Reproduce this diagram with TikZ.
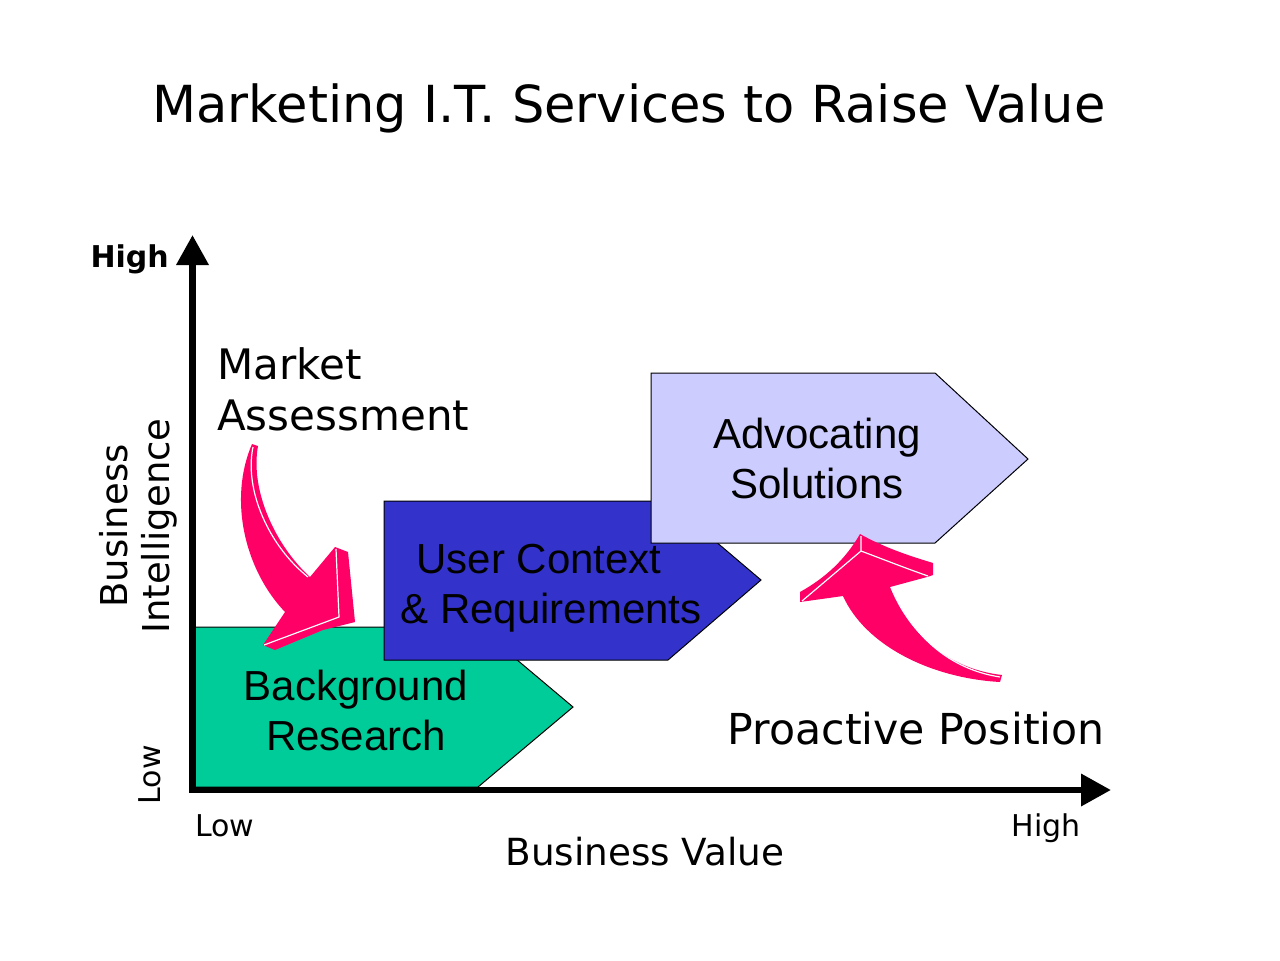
\documentclass[tikz,border=0pt]{standalone}
\usepackage{fontspec}
\usetikzlibrary{arrows.meta}
\newfontfamily\verd{DejaVu Sans}
\newfontfamily\arial{Liberation Sans}
\definecolor{brgreen}{HTML}{00CC99}
\definecolor{ucblue}{HTML}{3333CC}
\definecolor{advlav}{HTML}{CCCCFF}
\definecolor{pinkc}{HTML}{FF0066}
\begin{document}
\begin{tikzpicture}[x=0.75pt,y=-0.75pt,
  stagebox/.style={draw=black,line width=0.75pt,line join=miter},
  boxlabel/.style={font=\arial\fontsize{31.5}{37.5}\selectfont,inner sep=0pt,anchor=base},
  vlabel/.style={font=\verd\fontsize{31.5}{37.5}\selectfont,inner sep=0pt},
  ticklabel/.style={font=\verd\fontsize{22.5}{27}\selectfont,inner sep=0pt},
  hl/.style={draw=white,line width=0.9pt},
  axis/.style={line width=5pt,line join=miter,
    {Triangle[length=22.5pt,width=23.25pt]}-{Triangle[length=22.5pt,width=23.25pt]}}]
\useasboundingbox[fill=white] (0,0) rectangle (1280,960);

% title
\node[font=\verd\fontsize{38.3}{46}\selectfont,inner sep=0pt,anchor=base] (title) at (629,122) {Marketing I.T. Services to Raise Value};

% stage shapes
\draw[stagebox,fill=brgreen] (195,627) -- (478,627) -- (573,707) -- (478,787) -- (195,787) -- cycle;
\draw[stagebox,fill=ucblue] (384,501) -- (668,501) -- (761,580) -- (668,660) -- (384,660) -- cycle;
\draw[stagebox,fill=advlav] (651,373) -- (935,373) -- (1028,459) -- (935,543) -- (651,543) -- cycle;

\node[boxlabel] (bg1) at (356,700) {Background};
\node[boxlabel] (bg2) at (356,750) {Research};
\node[boxlabel] (uc1) at (539,573) {User Context};
\node[boxlabel] (uc2) at (551,623) {\& Requirements};
\node[boxlabel] (ad1) at (817,448) {Advocating};
\node[boxlabel] (ad2) at (817,498) {Solutions};

% pink arrow 1 (Market Assessment)
\fill[pinkc] (252,444) -- (258,446) .. controls (250,490) and (275,545) .. (310,577)
  -- (335,547) -- (348,552) -- (355,622) -- (323,630) -- (275,650) -- (263,645)
  -- (285,612) .. controls (245,570) and (228,500) .. (252,444) -- cycle;
\draw[hl] (253,447) .. controls (244,490) and (269,546) .. (308,577);
\draw[hl] (336,549) -- (339,617) -- (264,645);

% pink arrow 2 (Proactive Position)
\fill[pinkc] (860,534) .. controls (885,548) and (910,556) .. (933,563) -- (933,575) -- (927,577)
  -- (890,587) .. controls (905,625) and (940,668) .. (1002,675) -- (1000,682)
  .. controls (930,678) and (865,645) .. (843,596) -- (800,602) -- (800,592)
  .. controls (825,578) and (845,560) .. (860,534) -- cycle;
\draw[hl] (861,536) -- (861,551) -- (802,601);
\draw[hl] (861,551) .. controls (885,560) and (905,568) .. (928,576);
\draw[hl] (893,589) .. controls (908,627) and (942,668) .. (1000,677);

% axes
\coordinate (ytip) at (192.5,235);
\coordinate (xtip) at (1111,790);
\draw[axis] (ytip) |- (xtip);

% labels
\node[vlabel,anchor=base west] (ma1) at (217,379) {Market};
\node[vlabel,anchor=base west] (ma2) at (217,430) {Assessment};
\node[font=\verd\fontsize{32}{38}\selectfont,inner sep=0pt,anchor=base east] (pp) at (1105,744) {Proactive Position};
\node[font=\verd\fontsize{28}{33}\selectfont,inner sep=0pt,anchor=base] (bv) at (645,865) {Business Value};
\node[ticklabel,anchor=base west] (xlow) at (195,836) {Low};
\node[ticklabel,anchor=base east] (xhigh) at (1081,836) {High};
\node[font=\verd\bfseries\fontsize{22.5}{27}\selectfont,inner sep=0pt,anchor=base east] (yhigh) at (169,267) {High};
\node[ticklabel,rotate=90,anchor=center] (ylow) at (150,775) {Low};
\node[font=\verd\fontsize{27.75}{31.5}\selectfont,inner sep=0pt,rotate=90,align=center,anchor=center] (bi) at (138,526) {Business\\Intelligence};
\end{tikzpicture}
\end{document}
